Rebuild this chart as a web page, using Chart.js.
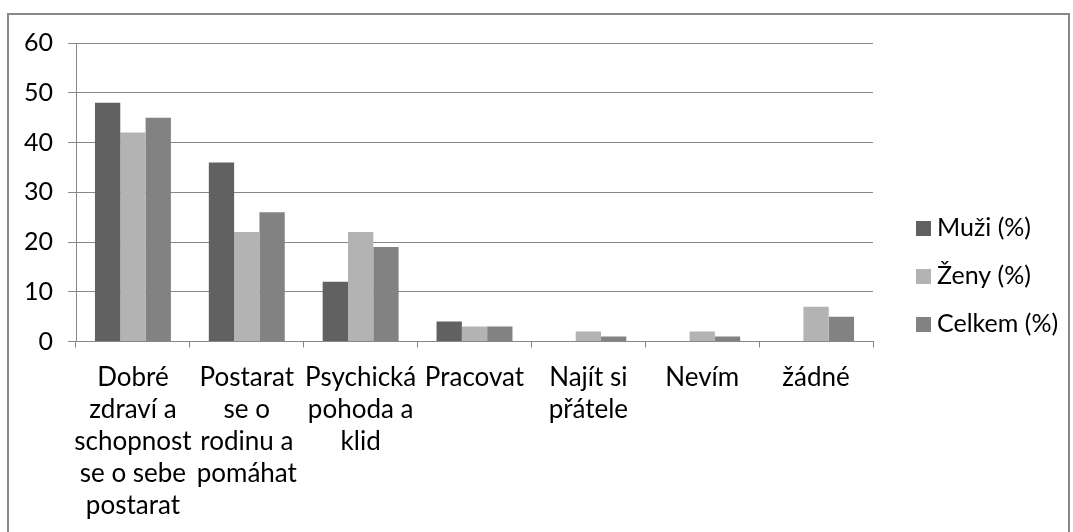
<!DOCTYPE html>
<html>
<head>
<meta charset="utf-8">
<script src="https://cdn.jsdelivr.net/npm/chart.js@4.4.1/dist/chart.umd.min.js"></script>
<style>
  html, body { margin: 0; padding: 0; background: #fff; overflow: hidden; }
  #wrap { position: relative; width: 1073px; height: 532px; }
  #frame {
    position: absolute; left: 7px; top: 13px; width: 1063px; height: 560px;
    border: 2px solid #888; box-sizing: border-box; pointer-events: none;
  }
  canvas { position: absolute; left: 0; top: 0; }
</style>
</head>
<body>
<div id="wrap">
  <canvas id="chart" width="1073" height="532"></canvas>
  <div id="frame"></div>
</div>
<script>
// Co je podle respondentů důležité ve stáří — hodnoty v %

const categories = [
  ["Dobré", "zdraví a", "schopnost", "se o sebe", "postarat"],
  ["Postarat", "se o", "rodinu a", "pomáhat"],
  ["Psychická", "pohoda a", "klid"],
  "Pracovat",
  ["Najít si", "přátele"],
  "Nevím",
  "žádné",
];
const muzi = [48, 36, 12, 4, 0, 0, 0];
const zeny = [42, 22, 22, 3, 2, 2, 7];
const celkem = [45, 26, 19, 3, 1, 1, 5];
const seriesNames = ["Muži (%)", "Ženy (%)", "Celkem (%)"];
const yTicks = [0, 10, 20, 30, 40, 50, 60];

const FONT = "Lato, 'Liberation Sans', sans-serif";
const FONT_SIZE = 25;
const GRID = "#878787";
const COLORS = ["#616161", "#b3b3b3", "#828282"];

// legend drawn by hand so it sits where the original one does
const sideLegend = {
  id: "sideLegend",
  afterDraw(chart) {
    const ctx = chart.ctx;
    const x = chart.chartArea.right + 43;
    const y0 = 221;
    const step = 48;
    ctx.save();
    ctx.font = FONT_SIZE + "px " + FONT;
    ctx.textBaseline = "alphabetic";
    ctx.textAlign = "left";
    chart.data.datasets.forEach((ds, i) => {
      const y = y0 + i * step;
      ctx.fillStyle = ds.backgroundColor;
      ctx.fillRect(x, y, 15, 15);
      ctx.fillStyle = "#000";
      ctx.fillText(ds.label, x + 21, y + 15);
    });
    ctx.restore();
  },
};

new Chart(document.getElementById("chart"), {
  type: "bar",
  data: {
    labels: categories,
    datasets: [
      { label: seriesNames[0], data: muzi, backgroundColor: COLORS[0] },
      { label: seriesNames[1], data: zeny, backgroundColor: COLORS[1] },
      { label: seriesNames[2], data: celkem, backgroundColor: COLORS[2] },
    ],
  },
  options: {
    responsive: false,
    animation: false,
    devicePixelRatio: 1,
    layout: { padding: { top: 43, right: 200, left: 0, bottom: 0 } },
    datasets: { bar: { categoryPercentage: 0.667, barPercentage: 1, borderWidth: 0 } },
    plugins: { legend: { display: false }, tooltip: { enabled: false } },
    scales: {
      x: {
        offset: true,
        grid: { offset: true, drawOnChartArea: false, drawTicks: true, tickLength: 6, color: GRID, lineWidth: 1 },
        border: { color: GRID, width: 1 },
        ticks: {
          color: "#000",
          padding: 14,
          maxRotation: 0,
          autoSkip: false,
          font: { family: FONT, size: 26, lineHeight: "32px" },
        },
        afterFit: (s) => { s.height = 190.5; },
      },
      y: {
        min: 0,
        max: 60,
        afterBuildTicks: (s) => { s.ticks = yTicks.map((v) => ({ value: v })); },
        grid: { color: GRID, lineWidth: 1, tickLength: 8 },
        border: { color: GRID, width: 1 },
        ticks: {
          color: "#000",
          padding: 15,
          font: { family: FONT, size: FONT_SIZE },
        },
        afterFit: (s) => { s.width = 76; },
      },
    },
  },
  plugins: [sideLegend],
});
</script>
</body>
</html>
